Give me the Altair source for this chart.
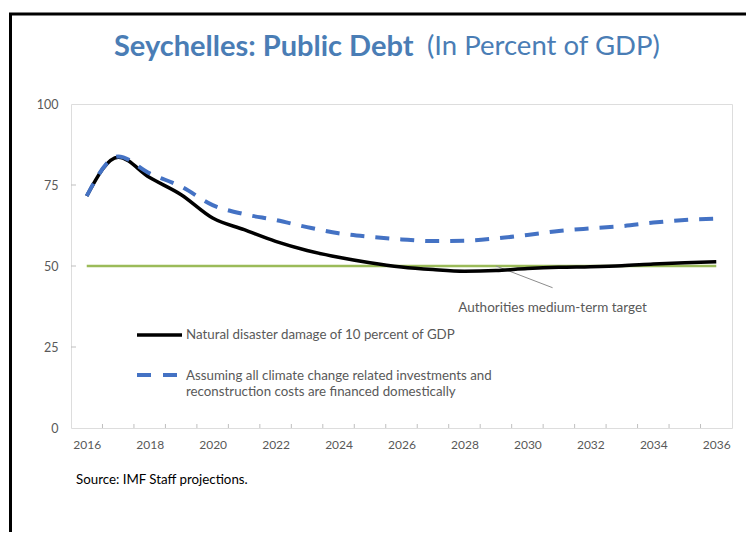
import altair as alt
import pandas as pd

years = list(range(2016, 2037))
disaster = [71.6, 83.6, 77.3, 72.0, 64.8, 61.2, 57.6, 54.8, 52.7, 51.0, 49.7,
            48.9, 48.4, 48.6, 49.2, 49.6, 49.8, 50.1, 50.6, 51.0, 51.3]
climate = [71.6, 83.8, 78.6, 74.5, 68.8, 66.0, 64.2, 62.0, 60.1, 59.0, 58.2,
           57.7, 57.8, 58.5, 59.6, 60.8, 61.6, 62.3, 63.4, 64.2, 64.6]
target_years = [2016, 2036]
target_values = [50, 50]
y_ticks = [0, 25, 50, 75, 100]
x_labels = list(range(2016, 2037, 2))
x_minor = [y + 0.5 for y in range(2016, 2036)]
y_minor = [25, 50, 75]

annot_line_x = [2029.0, 2030.8]
annot_line_y = [50.0, 43.3]
annot_text_x = [2030.8]
annot_text_y = [37.0]

df = pd.DataFrame({"year": years, "disaster": disaster, "climate": climate})
tdf = pd.DataFrame({"year": target_years, "v": target_values})
one = pd.DataFrame({"a": [0]})

FONT = "Lato"
GREY = "#595959"
xscale = alt.Scale(domain=[2015.5, 2036.5], nice=False, zero=False)
yscale = alt.Scale(domain=[0, 100], nice=False)

xaxis = alt.Axis(values=x_labels, format="d", title=None, grid=False, domain=False,
                 ticks=False, labelPadding=11, labelFont=FONT, labelFontSize=12,
                 labelColor=GREY)
yaxis = alt.Axis(values=y_ticks, title=None, grid=False, domain=False, ticks=False,
                 labelPadding=13, labelFont=FONT, labelFontSize=12.5, labelColor=GREY)

target = alt.Chart(tdf).mark_line(color="#9BBB59", strokeWidth=2.5).encode(
    x=alt.X("year:Q", scale=xscale, axis=xaxis),
    y=alt.Y("v:Q", scale=yscale, axis=yaxis),
)

black = alt.Chart(df).mark_line(color="black", strokeWidth=3.5, interpolate="monotone").encode(
    x=alt.X("year:Q", scale=xscale), y=alt.Y("disaster:Q", scale=yscale))

blue = alt.Chart(df).mark_line(color="#4472C4", strokeWidth=4, strokeDash=[14, 11],
                               interpolate="monotone").encode(
    x=alt.X("year:Q", scale=xscale), y=alt.Y("climate:Q", scale=yscale))

xt = alt.Chart(pd.DataFrame({"x": x_minor})).mark_rule(color="#BFBFBF").encode(
    x=alt.X("x:Q", scale=xscale), y=alt.value(324), y2=alt.value(320))
yt = alt.Chart(pd.DataFrame({"v": y_minor})).mark_rule(color="#BFBFBF").encode(
    y=alt.Y("v:Q", scale=yscale), x=alt.value(0), x2=alt.value(5))

adf = pd.DataFrame({"x": annot_line_x, "y": annot_line_y})
aline = alt.Chart(adf).mark_line(color="#8C8C8C", strokeWidth=1).encode(
    x=alt.X("x:Q", scale=xscale), y=alt.Y("y:Q", scale=yscale))
atext = alt.Chart(pd.DataFrame({"x": annot_text_x, "y": annot_text_y})).mark_text(
    text="Authorities medium-term target", font=FONT, fontSize=13.5, color=GREY,
    align="center", baseline="middle").encode(
    x=alt.X("x:Q", scale=xscale), y=alt.Y("y:Q", scale=yscale))

leg1 = alt.Chart(one).mark_rule(color="black", strokeWidth=3.5).encode(
    x=alt.value(66), x2=alt.value(111), y=alt.value(231))
leg1t = alt.Chart(one).mark_text(text="Natural disaster damage of 10 percent of GDP",
                                 font=FONT, fontSize=13.3, color=GREY, align="left",
                                 baseline="middle").encode(x=alt.value(115), y=alt.value(231))
leg2 = alt.Chart(one).mark_rule(color="#4472C4", strokeWidth=4, strokeDash=[14, 12]).encode(
    x=alt.value(66), x2=alt.value(107), y=alt.value(271))
leg2t = alt.Chart(one).mark_text(
    text=["Assuming all climate change related investments and",
          "reconstruction costs are financed domestically"],
    font=FONT, fontSize=13.3, color=GREY, align="left", baseline="middle",
    lineHeight=16).encode(x=alt.value(115), y=alt.value(272))

title1 = alt.Chart(one).mark_text(text="Seychelles: Public Debt", font=FONT, fontWeight="bold",
                                  fontSize=29, color="#4A7DB5", align="left",
                                  baseline="middle").encode(x=alt.value(43), y=alt.value(-57))
title2 = alt.Chart(one).mark_text(text="(In Percent of GDP)", font=FONT, fontSize=27.5,
                                  color="#4A7DB5", align="left",
                                  baseline="middle").encode(x=alt.value(356), y=alt.value(-57))
source = alt.Chart(one).mark_text(text="Source: IMF Staff projections.", font=FONT,
                                  fontSize=13.3, color="black", align="left",
                                  baseline="middle").encode(x=alt.value(5), y=alt.value(376))
frame = alt.Chart(one).mark_rect(fill="transparent", stroke="black", strokeWidth=3).encode(
    x=alt.value(-60.5), y=alt.value(-90), x2=alt.value(900), y2=alt.value(700))

chart = alt.layer(
    frame, target, xt, yt, aline, black, blue, atext, leg1, leg1t, leg2, leg2t,
    title1, title2, source
).properties(
    width=661, height=324,
    autosize=alt.AutoSizeParams(type="none"),
    padding={"left": 63, "top": 96, "right": 14, "bottom": 104},
).configure_view(stroke="#BFBFBF", strokeWidth=1).configure(background="white")

chart.save("out.html", embed_options={"renderer": "svg", "actions": False})
